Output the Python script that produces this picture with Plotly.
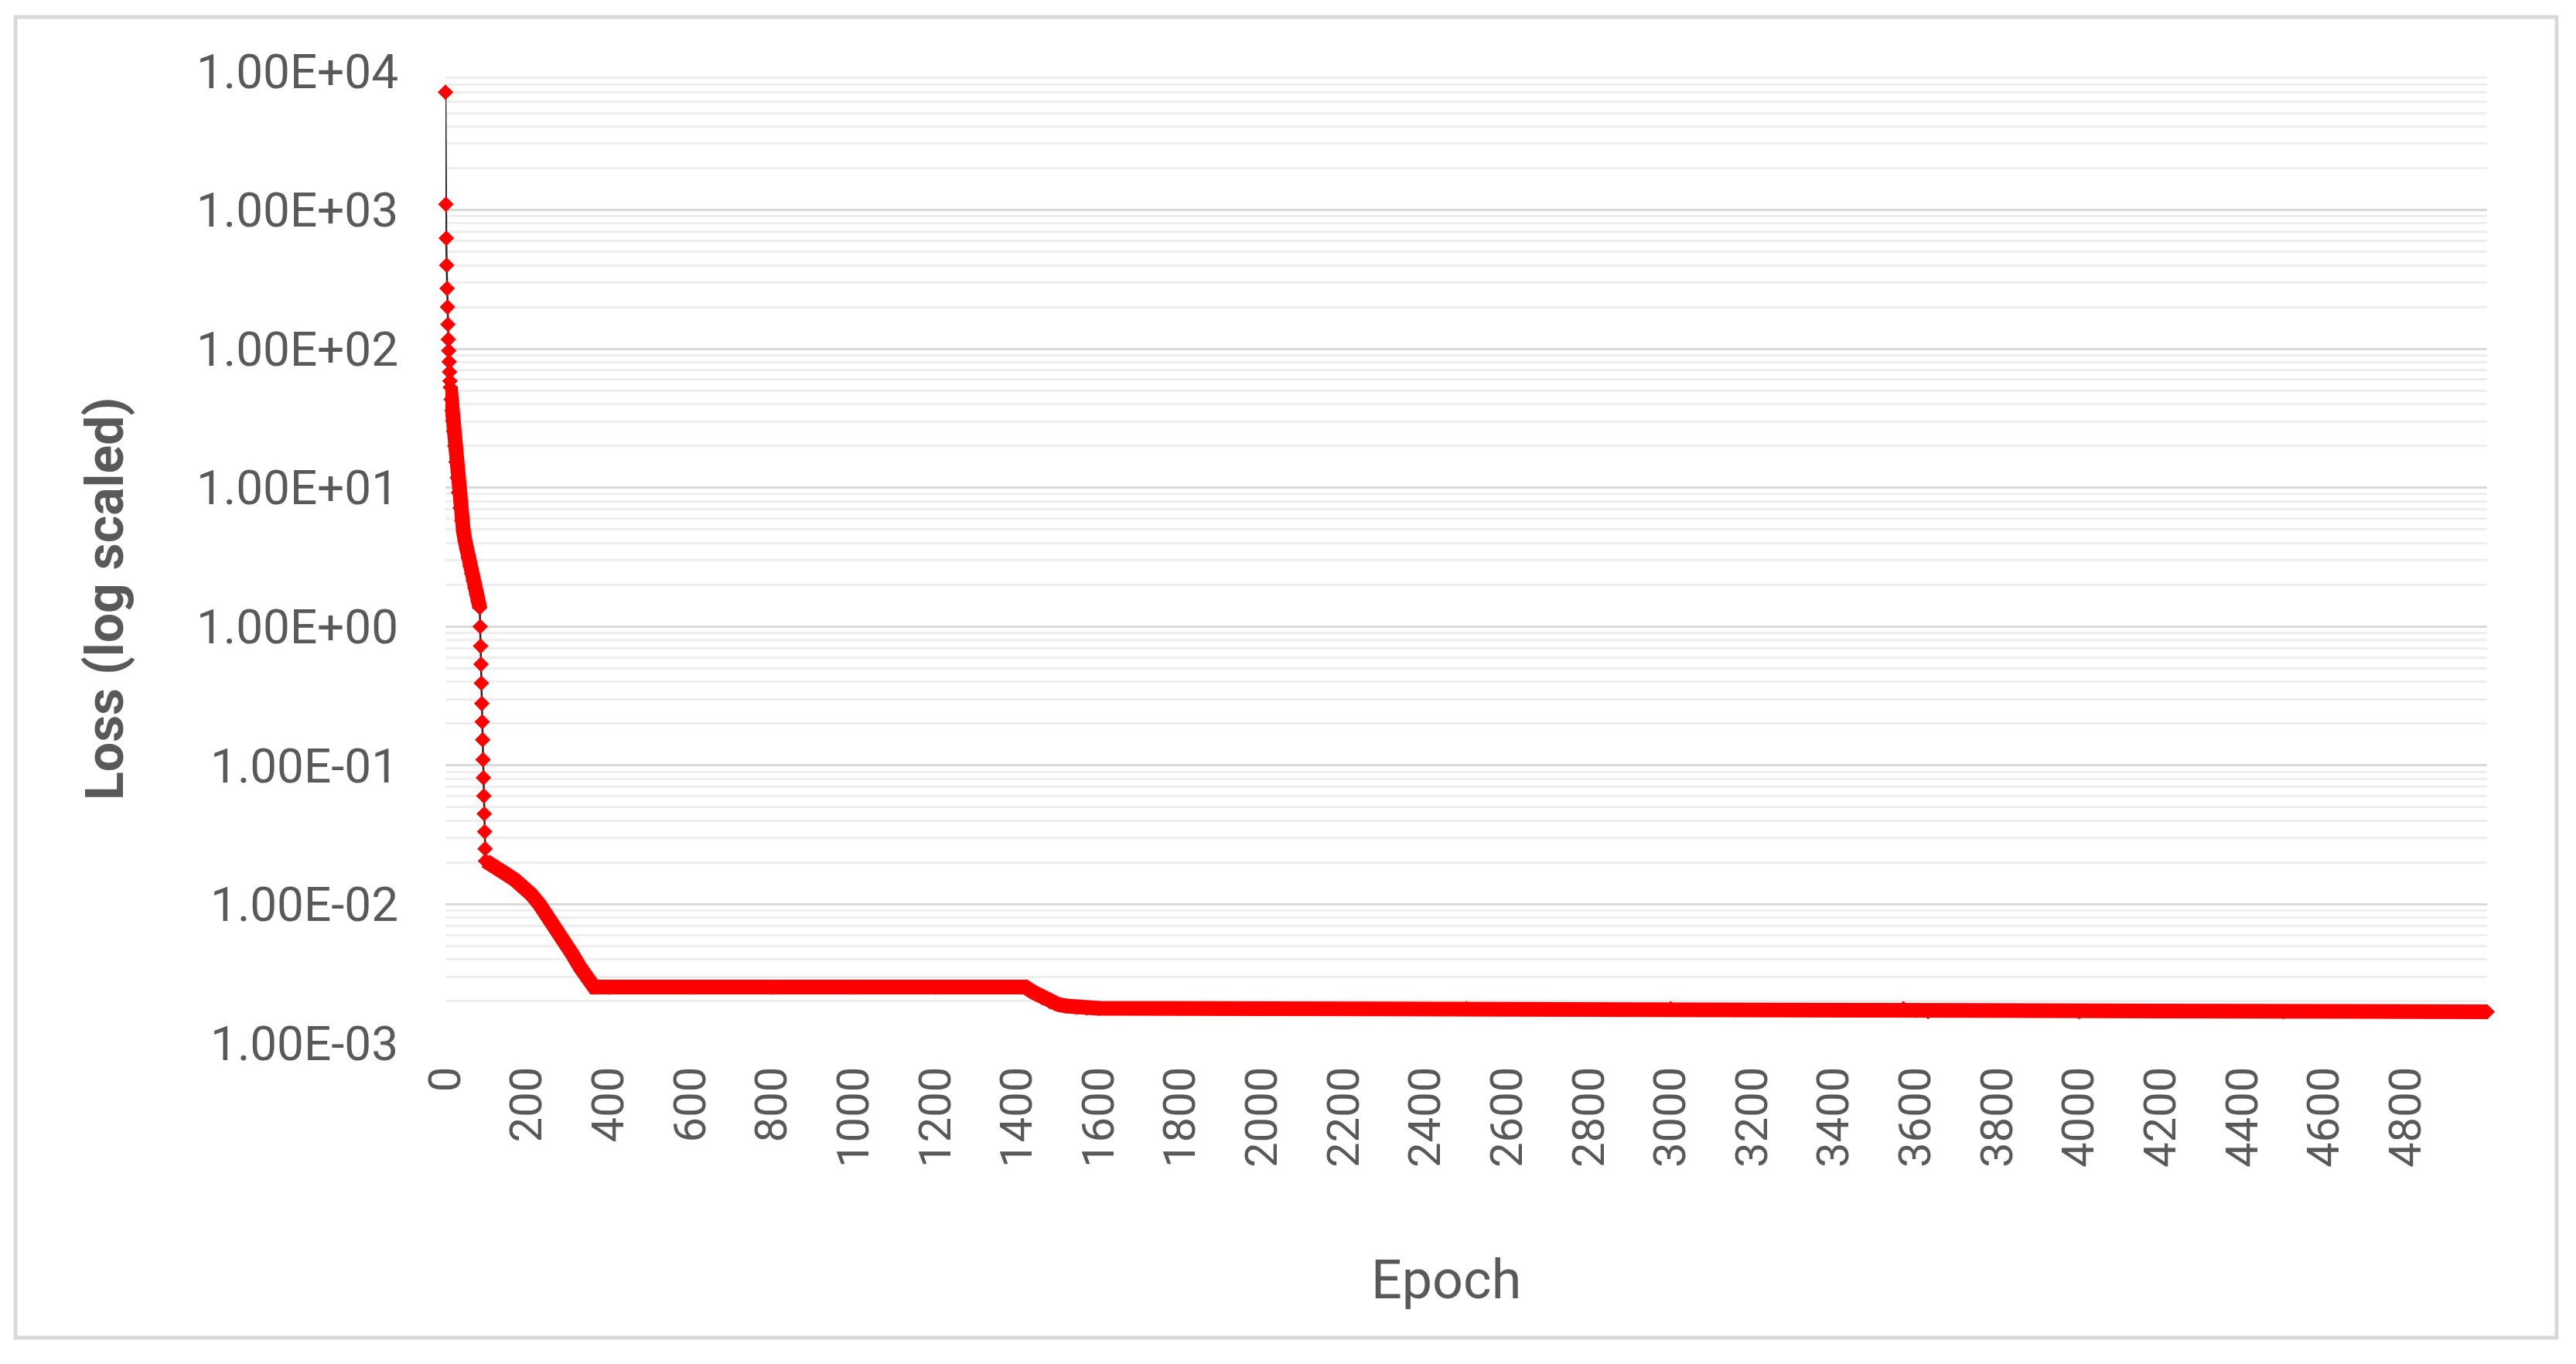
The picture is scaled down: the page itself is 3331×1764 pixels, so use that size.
import plotly.graph_objects as go

# ---- data (epoch, loss) ----
head_epoch = [0, 1, 2, 3, 4, 5, 6, 7, 8, 9, 10, 11]
head_loss = [7050, 1100, 626, 400, 272, 200, 150, 117, 97.0, 80.7, 68.1, 58.7]

early_epoch = [12, 14, 16, 18, 20, 23, 26, 29, 32, 36, 40, 44, 48, 52, 56, 60, 64, 68, 72, 76, 80, 84]
early_loss = [52.7, 43.3, 36.0, 30.2, 25.5, 19.9, 15.3, 11.8, 9.23, 7.13, 5.77, 4.84, 4.14, 3.57,
              3.11, 2.72, 2.40, 2.13, 1.90, 1.70, 1.52, 1.37]

drop_epoch = [85, 86, 87, 88, 89, 90, 91, 92, 93, 94, 95, 96, 97]
drop_loss = [1.00, 0.723, 0.535, 0.391, 0.279, 0.206, 0.153, 0.110, 0.0815, 0.0603, 0.0448, 0.0333, 0.0251]

late_epoch = [98, 110, 130, 150, 170, 190, 210, 230, 250, 270, 290, 310, 330, 350, 364,
              400, 600, 800, 1000, 1200, 1420, 1440, 1460, 1480, 1500, 1520, 1545, 1570, 1600,
              2000, 2500, 3000, 3570, 3600, 3630, 4000, 4500, 4999]
late_loss = [0.0205, 0.0192, 0.0177, 0.0164, 0.0150, 0.0135, 0.0118, 0.0100, 0.0083, 0.0068,
             0.0055, 0.0044, 0.0035, 0.0028, 0.00253,
             0.00253, 0.00253, 0.00253, 0.00253, 0.00253, 0.00253, 0.00232, 0.00213, 0.00199,
             0.00190, 0.00185, 0.00181, 0.00179, 0.00178,
             0.00177, 0.00177, 0.00177, 0.00177, 0.00172, 0.00169, 0.00168, 0.00168, 0.00168]

x_ticks = list(range(0, 4801, 200))
y_ticks = [1e-3, 1e-2, 1e-1, 1e0, 1e1, 1e2, 1e3, 1e4]
y_tick_text = ["1.00E-03", "1.00E-02", "1.00E-01", "1.00E+00", "1.00E+01", "1.00E+02", "1.00E+03", "1.00E+04"]

all_epoch = head_epoch + early_epoch + drop_epoch + late_epoch
all_loss = head_loss + early_loss + drop_loss + late_loss

RED = "#ff0000"
TXT = "#595959"
FONT = "Roboto"

fig = go.Figure()
# thin dark connecting line
fig.add_trace(go.Scatter(x=all_epoch, y=all_loss, mode="lines",
                         line=dict(color="#262626", width=2.5), cliponaxis=False,
                         showlegend=False, hoverinfo="skip"))
# dense stretches where the markers merge into a band
for ex, ey in ((early_epoch, early_loss), (late_epoch, late_loss)):
    fig.add_trace(go.Scatter(x=ex, y=ey, mode="lines",
                             line=dict(color=RED, width=19), cliponaxis=False,
                             showlegend=False, hoverinfo="skip"))
# markers
fig.add_trace(go.Scatter(x=all_epoch, y=all_loss, mode="markers",
                         marker=dict(symbol="diamond", size=15.5, color=RED, line=dict(width=0)),
                         cliponaxis=False, showlegend=False))

W, H = 3331, 1764
L, R, T, B = 576, 115, 92, 415
pw, ph = W - L - R, H - T - B

def px(xp):
    return (xp - L) / pw

def py(yp):
    return (H - B - yp) / ph

fig.update_layout(
    width=W, height=H, autosize=False,
    margin=dict(l=L, r=R, t=T, b=B, pad=0),
    paper_bgcolor="white", plot_bgcolor="white",
    font=dict(family=FONT, color=TXT, size=60),
    xaxis=dict(range=[0, 4999], tickmode="array", tickvals=x_ticks,
               tickangle=-90, tickfont=dict(size=58, color=TXT, family=FONT),
               showgrid=False, zeroline=False, showline=False, ticks="",
               ticklabelstandoff=18),
    yaxis=dict(type="log", range=[-3, 4], tickmode="array", tickvals=y_ticks,
               ticktext=y_tick_text, tickfont=dict(size=62, color=TXT, family=FONT),
               showgrid=True, gridcolor="#d9d9d9", gridwidth=3,
               minor=dict(showgrid=True, gridcolor="#eeeeee", gridwidth=3, dtick="D1"),
               zeroline=False, showline=False, ticks="", ticklabelstandoff=60),
    shapes=[dict(type="rect", xref="paper", yref="paper",
                 x0=px(20), x1=px(3306), y0=py(1730), y1=py(22),
                 line=dict(color="#d9d9d9", width=5), fillcolor="rgba(0,0,0,0)", layer="below")],
    annotations=[
        dict(text="Epoch", xref="paper", yref="paper", x=px(1870), y=py(1655),
             xanchor="center", yanchor="middle", showarrow=False,
             font=dict(size=70, color=TXT, family=FONT)),
        dict(text="<b>Loss (log scaled)</b>", xref="paper", yref="paper", x=px(136), y=py(775),
             xanchor="center", yanchor="middle", showarrow=False, textangle=-90,
             font=dict(size=68, color=TXT, family=FONT)),
    ],
)

fig.write_html("out.html", config={"displayModeBar": False},
               post_script="document.body.style.margin='0';document.body.style.overflow='hidden';")
